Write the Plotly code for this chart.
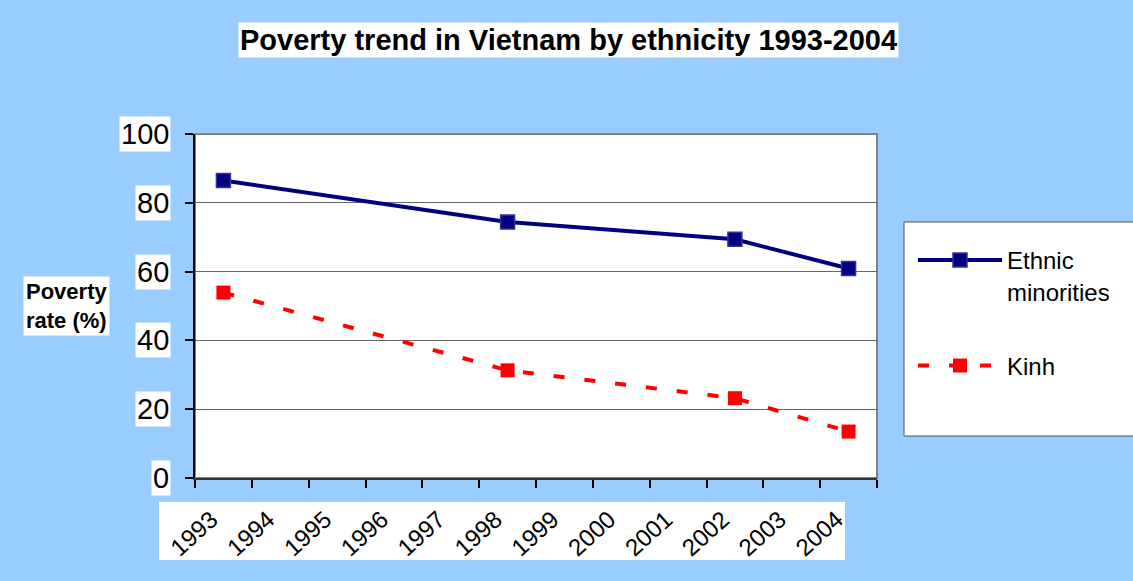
import plotly.graph_objects as go

years = [str(y) for y in range(1993, 2005)]
survey_years = ["1993", "1998", "2002", "2004"]
ethnic_minorities = [86.5, 74.4, 69.4, 60.9]
kinh = [53.9, 31.3, 23.2, 13.5]
y_ticks = [0, 20, 40, 60, 80, 100]

FONT = "Liberation Sans, Arial, sans-serif"
W, H = 1133, 581
L, R, T, B = 195, 256, 134, 103
pw, ph = W - L - R, H - T - B

def px(x):
    return (x - L) / pw

def py(y):
    return (H - B - y) / ph

fig = go.Figure()
fig.add_trace(go.Scatter(
    x=survey_years, y=ethnic_minorities, name="Ethnic<br>minorities",
    mode="lines+markers", legendgroup="a",
    line=dict(color="#000080", width=4),
    marker=dict(symbol="square", size=14, color="#000080",
                line=dict(color="#333399", width=1.5)),
))
fig.add_trace(go.Scatter(
    x=survey_years, y=kinh, name="Kinh",
    mode="lines+markers", legendgroup="b",
    line=dict(color="#FF0000", width=4, dash="11px,20px"),
    marker=dict(symbol="square", size=14, color="#FF0000"),
))

annotations = [
    dict(text="<b>Poverty trend in Vietnam by ethnicity 1993-2004</b>",
         xref="paper", yref="paper", x=px(568), y=py(40),
         xanchor="center", yanchor="middle", showarrow=False,
         bgcolor="white", borderpad=1,
         font=dict(family=FONT, size=29, color="black")),
    dict(text="<b>Poverty<br>rate (%)</b>",
         xref="paper", yref="paper", x=px(66), y=py(306),
         xanchor="center", yanchor="middle", showarrow=False, align="left",
         bgcolor="white", borderpad=2,
         font=dict(family=FONT, size=22, color="black")),
]
for v in y_ticks:
    annotations.append(dict(
        text=str(v), xref="paper", yref="y", x=px(171), y=v,
        xanchor="right", yanchor="middle", showarrow=False,
        bgcolor="white", borderpad=1,
        font=dict(family=FONT, size=29, color="black")))

shapes = [
    # plot area border
    dict(type="rect", xref="paper", yref="paper", x0=0, x1=1, y0=0, y1=1,
         line=dict(color="#808080", width=2), fillcolor="rgba(0,0,0,0)", layer="below"),
    # white band behind x tick labels
    dict(type="rect", xref="paper", yref="paper", x0=px(159), x1=px(845),
         y0=py(560), y1=py(502), line=dict(width=0), fillcolor="white", layer="below"),
    # legend box
    dict(type="rect", xref="paper", yref="paper", x0=px(904), x1=px(1145),
         y0=py(436), y1=py(222), line=dict(color="#555555", width=1),
         fillcolor="white", layer="above"),
]

fig.update_layout(
    width=W, height=H,
    margin=dict(l=L, r=R, t=T, b=B, pad=0),
    paper_bgcolor="#99CCFF", plot_bgcolor="white",
    font=dict(family=FONT, color="black"),
    showlegend=True,
    legend=dict(x=px(913), y=py(238), xanchor="left", yanchor="top",
                bgcolor="rgba(0,0,0,0)", borderwidth=0, valign="top",
                tracegroupgap=40, itemwidth=84,
                font=dict(family=FONT, size=24, color="black")),
    annotations=annotations,
    shapes=shapes,
    xaxis=dict(type="category", categoryorder="array", categoryarray=years,
               range=[-0.5, len(years) - 0.5], tickson="boundaries",
               ticks="outside", ticklen=8, tickcolor="black", tickwidth=1.5,
               showgrid=False, showline=True, linecolor="#333333", linewidth=2,
               tickangle=-42, ticklabelstandoff=16, ticklabelshift=-12,
               tickfont=dict(family=FONT, size=24, color="black"), zeroline=False),
    yaxis=dict(range=[0, 100], tickvals=y_ticks, showticklabels=False,
               ticks="outside", ticklen=8, tickcolor="black", tickwidth=1.5,
               showgrid=True, gridcolor="#666666", gridwidth=1,
               showline=True, linecolor="black", linewidth=2, zeroline=False),
)

fig.write_html("out.html", config={"displayModeBar": False},
               post_script="document.body.style.margin='0';")
